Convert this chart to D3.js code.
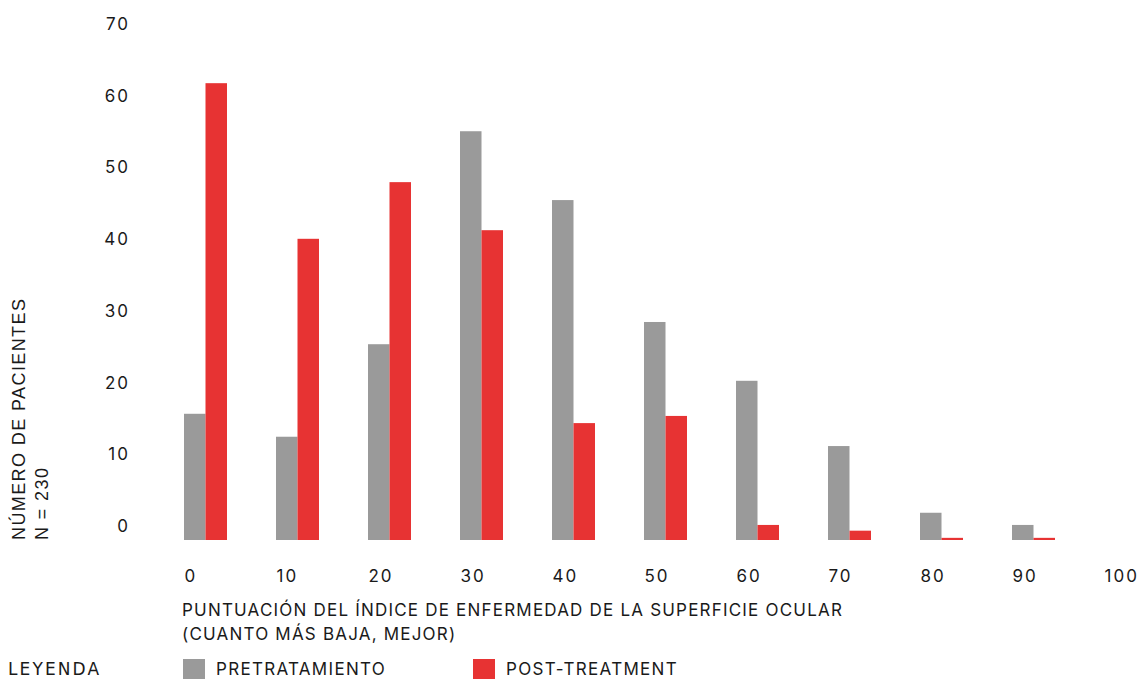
<!DOCTYPE html>
<html lang="es">
<head>
  <meta charset="UTF-8">
  <title>Índice de enfermedad de la superficie ocular</title>
  <script src="https://d3js.org/d3.v7.min.js"></script>
  <style>
    body { margin: 0; background: #fff; }
    text { font-family: Inter, Roboto, sans-serif; fill: #1a1a1a; }
  </style>
</head>
<body>
  <script>
    // bins of the score (0, 10, ... 90) and patient counts
    let scores = [0, 10, 20, 30, 40, 50, 60, 70, 80, 90]
    let xTicks = [0, 10, 20, 30, 40, 50, 60, 70, 80, 90, 100]
    let yTicks = [0, 10, 20, 30, 40, 50, 60, 70]
    let pretratamiento = [17.6, 14.4, 27.3, 57.0, 47.4, 30.4, 22.2, 13.1, 3.8, 2.1]
    let postTreatment = [63.7, 42.0, 49.9, 43.2, 16.3, 17.3, 2.1, 1.3, 0.3, 0.3]

    let grey = '#9a9a9a'
    let red = '#e73333'
    let font = 'Inter, Roboto, sans-serif'

    let svg = d3.select('body')
      .append('svg')
      .attr('width', 1138)
      .attr('height', 679)

    let x = d3.scaleLinear().domain([0, 100]).range([184, 1104])
    let y = d3.scaleLinear().domain([0, 70]).range([540, 38])
    let barW = 21.5

    // bars
    svg.selectAll('rect.pre')
      .data(scores)
      .enter()
      .append('rect')
      .attr('class', 'pre')
      .attr('x', d => x(d))
      .attr('y', (d, i) => y(pretratamiento[i]))
      .attr('width', barW)
      .attr('height', (d, i) => y(0) - y(pretratamiento[i]))
      .style('fill', grey)

    svg.selectAll('rect.post')
      .data(scores)
      .enter()
      .append('rect')
      .attr('class', 'post')
      .attr('x', d => x(d) + barW)
      .attr('y', (d, i) => y(postTreatment[i]))
      .attr('width', barW)
      .attr('height', (d, i) => y(0) - y(postTreatment[i]))
      .style('fill', red)

    // y axis: labels only, they sit a little above the value line
    let yAxis = svg.append('g')
      .attr('transform', 'translate(130,-14)')
      .call(d3.axisLeft(y).tickValues(yTicks).tickSize(0).tickPadding(0))
    yAxis.select('.domain').remove()
    yAxis.selectAll('text')
      .style('font-size', '17px')
      .style('letter-spacing', '2px')
      .style('font-family', font)
      .style('fill', '#1a1a1a')

    // x axis: labels start at the tick
    let xAxis = svg.append('g')
      .attr('transform', 'translate(0,570)')
      .call(d3.axisBottom(x).tickValues(xTicks).tickSize(0).tickPadding(0))
    xAxis.select('.domain').remove()
    xAxis.selectAll('text')
      .attr('text-anchor', 'start')
      .style('font-size', '17px')
      .style('letter-spacing', '2px')
      .style('font-family', font)
      .style('fill', '#1a1a1a')

    // axis titles
    svg.append('text')
      .attr('x', 182).attr('y', 616)
      .style('font-size', '17px')
      .style('letter-spacing', '1.2px')
      .text('PUNTUACIÓN DEL ÍNDICE DE ENFERMEDAD DE LA SUPERFICIE OCULAR')
    svg.append('text')
      .attr('x', 182).attr('y', 640)
      .style('font-size', '17px')
      .style('letter-spacing', '1.2px')
      .text('(CUANTO MÁS BAJA, MEJOR)')

    let yTitle = svg.append('g').attr('transform', 'translate(25,540) rotate(-90)')
    yTitle.append('text').attr('x', 0).attr('y', 0)
      .style('font-family', '"Liberation Sans", Arial, sans-serif')
      .style('font-size', '18px')
      .style('letter-spacing', '1.4px')
      .text('NÚMERO DE PACIENTES')
    yTitle.append('text').attr('x', 0).attr('y', 23)
      .style('font-family', '"Liberation Sans", Arial, sans-serif')
      .style('font-size', '18px')
      .style('letter-spacing', '1.4px')
      .text('N = 230')

    // legend
    svg.append('text')
      .attr('x', 8).attr('y', 675)
      .style('font-family', '"DejaVu Sans", sans-serif')
      .style('font-size', '17px')
      .style('letter-spacing', '2.1px')
      .text('LEYENDA')

    let legend = [
      { name: 'PRETRATAMIENTO', color: grey, x: 183 },
      { name: 'POST-TREATMENT', color: red, x: 473 }
    ]
    let lg = svg.selectAll('g.legend')
      .data(legend)
      .enter()
      .append('g')
      .attr('class', 'legend')
      .attr('transform', d => 'translate(' + d.x + ',659)')
    lg.append('rect')
      .attr('width', 22).attr('height', 20)
      .style('fill', d => d.color)
    lg.append('text')
      .attr('x', 33).attr('y', 16)
      .style('font-size', '17px')
      .style('letter-spacing', '1.3px')
      .text(d => d.name)
  </script>
</body>
</html>
